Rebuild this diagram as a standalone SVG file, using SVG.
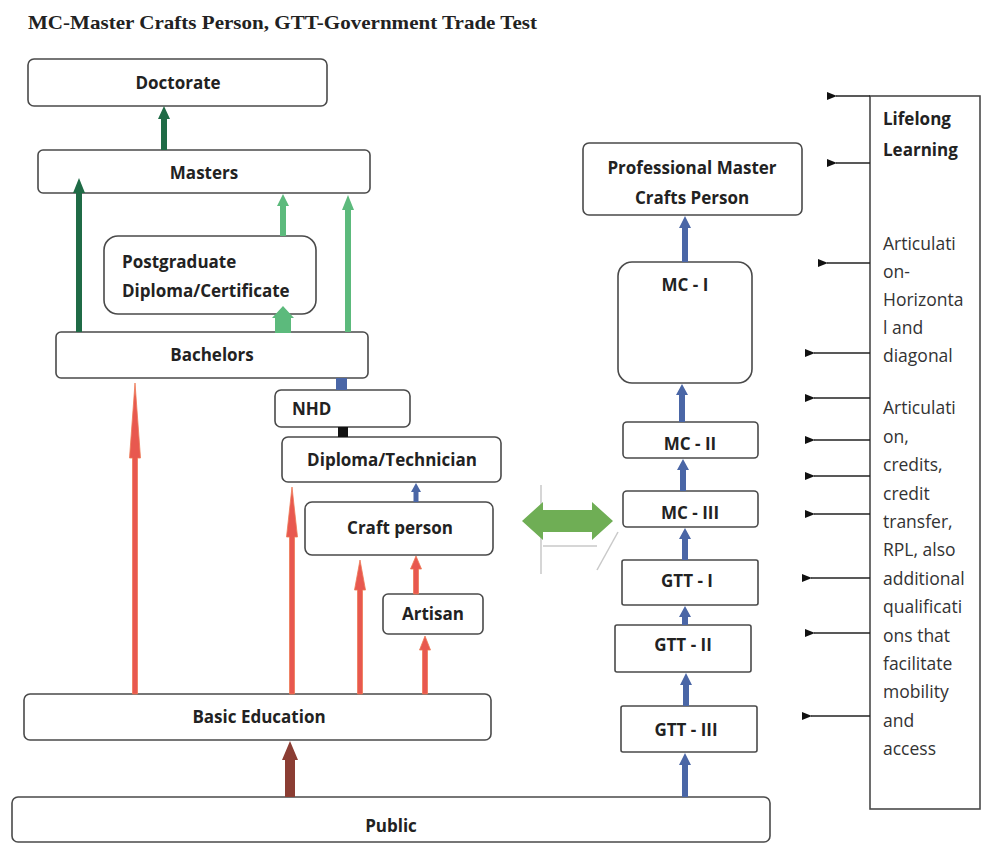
<svg xmlns="http://www.w3.org/2000/svg" width="984" height="845" viewBox="0 0 984 845">
<defs>
<style>
.box{fill:#fff;stroke:#4a4a4a;stroke-width:1.6}
.lbl{font-family:"Open Sans","Liberation Sans",sans-serif;font-weight:bold;font-size:17px;fill:#222;text-anchor:middle}
.lbll{font-family:"Open Sans","Liberation Sans",sans-serif;font-weight:bold;font-size:17px;fill:#222}
.side{font-family:"Open Sans","Liberation Sans",sans-serif;font-size:17.5px;fill:#333}
.sideb{font-family:"Open Sans","Liberation Sans",sans-serif;font-size:17px;font-weight:bold;fill:#222}
.red{fill:#e8584f;stroke:#ee7a55;stroke-width:0.8}
.dg{fill:#1f6b46}
.lg{fill:#5cba7c}
.bl{fill:#4a66a6}
.br{fill:#8b3d33}
.tick{stroke:#222;stroke-width:1.6;fill:none}
.faint{stroke:#c9c9c9;stroke-width:1.5;fill:none}
</style>
<marker id="ah" viewBox="0 0 10 8" refX="1" refY="4" markerWidth="10" markerHeight="8" markerUnits="userSpaceOnUse" orient="auto">
<path d="M0,4 L10,0 L10,8 Z" fill="#111"/>
</marker>
</defs>

<text x="28" y="29" font-family="Liberation Serif,serif" font-weight="bold" font-size="19" fill="#222" textLength="509" lengthAdjust="spacingAndGlyphs">MC-Master Crafts Person, GTT-Government Trade Test</text>

<g id="doctorate"><rect class="box" x="28" y="59" width="299" height="47" rx="6"/><text class="lbl" x="178" y="89">Doctorate</text></g>
<g id="masters"><rect class="box" x="38" y="150" width="332" height="43" rx="5"/><text class="lbl" x="204" y="179">Masters</text></g>
<g id="postgraduate"><rect class="box" x="104" y="236" width="212" height="78" rx="14"/><text class="lbll" x="122" y="268">Postgraduate</text><text class="lbll" x="122" y="297">Diploma/Certificate</text></g>
<g id="bachelors"><rect class="box" x="56" y="332" width="312" height="46" rx="5"/><text class="lbl" x="212" y="361">Bachelors</text></g>
<g id="nhd"><rect class="box" x="275" y="390" width="135" height="37" rx="6"/><text class="lbll" x="292" y="415">NHD</text></g>
<g id="diploma"><rect class="box" x="282" y="437" width="219" height="45" rx="6"/><text class="lbl" x="392" y="466">Diploma/Technician</text></g>
<g id="craft"><rect class="box" x="305" y="502" width="188" height="53" rx="7"/><text class="lbl" x="400" y="534">Craft person</text></g>
<g id="artisan"><rect class="box" x="383" y="594" width="100" height="40" rx="5"/><text class="lbl" x="433" y="620">Artisan</text></g>
<g id="basic"><rect class="box" x="24" y="694" width="467" height="46" rx="6"/><text class="lbl" x="259" y="723">Basic Education</text></g>
<g id="public"><rect class="box" x="12" y="797" width="758" height="45" rx="6"/><text class="lbl" x="391" y="832">Public</text></g>

<g id="pmcp"><rect class="box" x="583" y="143" width="219" height="72" rx="6"/><text class="lbl" x="692" y="174">Professional Master</text><text class="lbl" x="692" y="204">Crafts  Person</text></g>
<g id="mc1"><rect class="box" x="618" y="262" width="134" height="121" rx="14"/><text class="lbl" x="685" y="291">MC - I</text></g>
<g id="mc2"><rect class="box" x="623" y="422" width="135" height="36" rx="4"/><text class="lbl" x="690" y="450">MC - II</text></g>
<g id="mc3"><rect class="box" x="623" y="491" width="135" height="36" rx="4"/><text class="lbl" x="690" y="519">MC - III</text></g>
<g id="gtt1"><rect class="box" x="622" y="560" width="136" height="45" rx="2"/><text class="lbl" x="687" y="587">GTT - I</text></g>
<g id="gtt2"><rect class="box" x="615" y="625" width="136" height="47" rx="2"/><text class="lbl" x="683" y="651">GTT - II</text></g>
<g id="gtt3"><rect class="box" x="621" y="706" width="136" height="46" rx="2"/><text class="lbl" x="686" y="736">GTT - III</text></g>

<g id="lifelong">
<rect class="box" x="870" y="96" width="110" height="713" rx="0"/>
<text class="sideb" x="883" y="125">Lifelong</text>
<text class="sideb" x="883" y="156">Learning</text>
<text class="side" x="883" y="250">Articulati</text>
<text class="side" x="883" y="278">on-</text>
<text class="side" x="883" y="306">Horizonta</text>
<text class="side" x="883" y="334">l and</text>
<text class="side" x="883" y="362">diagonal</text>
<text class="side" x="883" y="414">Articulati</text>
<text class="side" x="883" y="443">on,</text>
<text class="side" x="883" y="471">credits,</text>
<text class="side" x="883" y="500">credit</text>
<text class="side" x="883" y="528">transfer,</text>
<text class="side" x="883" y="556">RPL, also</text>
<text class="side" x="883" y="585">additional</text>
<text class="side" x="883" y="613">qualificati</text>
<text class="side" x="883" y="642">ons that</text>
<text class="side" x="883" y="670">facilitate</text>
<text class="side" x="883" y="698">mobility</text>
<text class="side" x="883" y="727">and</text>
<text class="side" x="883" y="755">access</text>
</g>

<g id="connectors">
<path class="dg" d="M161,150 L161,119 L158,119 L164,106 L170,119 L167,119 L167,150 Z"/>
<path class="dg" d="M76,332 L76,193 L73,193 L79,178 L85,193 L82,193 L82,332 Z"/>
<path class="lg" d="M280,236 L280,206 L277,206 L283,194 L289,206 L286,206 L286,236 Z"/>
<path class="lg" d="M345,332 L345,210 L342,210 L348,195 L354,210 L351,210 L351,332 Z"/>
<path class="lg" d="M275,333 L275,318 L272,318 L283,306 L294,318 L291,318 L291,333 Z"/>
<rect class="bl" x="336" y="378" width="11" height="12"/>
<rect x="338" y="427" width="10" height="10" fill="#111"/>
<path class="bl" d="M413.5,502 L413.5,492 L411,492 L416,483 L421,492 L418.5,492 L418.5,502 Z"/>
<path class="red" d="M132.5,694 L132.5,458 L129.5,458 L135,383 L140.5,458 L137.5,458 L137.5,694 Z"/>
<path class="red" d="M289.5,694 L289.5,537 L286.5,537 L292,487 L297.5,537 L294.5,537 L294.5,694 Z"/>
<path class="red" d="M357.5,694 L357.5,590 L354.5,590 L360,560 L365.5,590 L362.5,590 L362.5,694 Z"/>
<path class="red" d="M413.5,594 L413.5,569 L410.5,569 L416,556 L421.5,569 L418.5,569 L418.5,594 Z"/>
<path class="red" d="M422.5,694 L422.5,650 L419.5,650 L425,636 L430.5,650 L427.5,650 L427.5,694 Z"/>
<path class="br" d="M285,797 L285,760 L282,760 L290,741 L298,760 L295,760 L295,797 Z"/>
<path class="bl" d="M682,797 L682,765 L679,765 L685,753 L691,765 L688,765 L688,797 Z"/>
<path class="bl" d="M683,706 L683,685 L680,685 L686,673 L692,685 L689,685 L689,706 Z"/>
<path class="bl" d="M682,625 L682,617 L679,617 L685,606 L691,617 L688,617 L688,625 Z"/>
<path class="bl" d="M682,560 L682,539 L679,539 L685,528 L691,539 L688,539 L688,560 Z"/>
<path class="bl" d="M680,491 L680,470 L677,470 L683,459 L689,470 L686,470 L686,491 Z"/>
<path class="bl" d="M679,422 L679,395 L676,395 L682,384 L688,395 L685,395 L685,422 Z"/>
<path class="bl" d="M682,262 L682,228 L679,228 L685,216 L691,228 L688,228 L688,262 Z"/>
<line class="faint" x1="541" y1="485" x2="541" y2="574"/>
<line class="faint" x1="543" y1="546" x2="597" y2="546"/>
<line class="faint" x1="597" y1="570" x2="618" y2="532"/>
<path d="M522,521 L543,502 L543,510 L592,510 L592,502 L613,521 L592,540 L592,532 L543,532 L543,540 Z" fill="#6fae55"/>
<line class="tick" x1="870" y1="96" x2="836" y2="96" marker-end="url(#ah)"/>
<line class="tick" x1="870" y1="163" x2="836" y2="163" marker-end="url(#ah)"/>
<line class="tick" x1="870" y1="263" x2="827" y2="263" marker-end="url(#ah)"/>
<line class="tick" x1="870" y1="353" x2="814" y2="353" marker-end="url(#ah)"/>
<line class="tick" x1="870" y1="398" x2="814" y2="398" marker-end="url(#ah)"/>
<line class="tick" x1="870" y1="440" x2="814" y2="440" marker-end="url(#ah)"/>
<line class="tick" x1="870" y1="476" x2="814" y2="476" marker-end="url(#ah)"/>
<line class="tick" x1="870" y1="514" x2="814" y2="514" marker-end="url(#ah)"/>
<line class="tick" x1="870" y1="578" x2="811" y2="578" marker-end="url(#ah)"/>
<line class="tick" x1="870" y1="633" x2="814" y2="633" marker-end="url(#ah)"/>
<line class="tick" x1="870" y1="716" x2="811" y2="716" marker-end="url(#ah)"/>
</g>
</svg>
